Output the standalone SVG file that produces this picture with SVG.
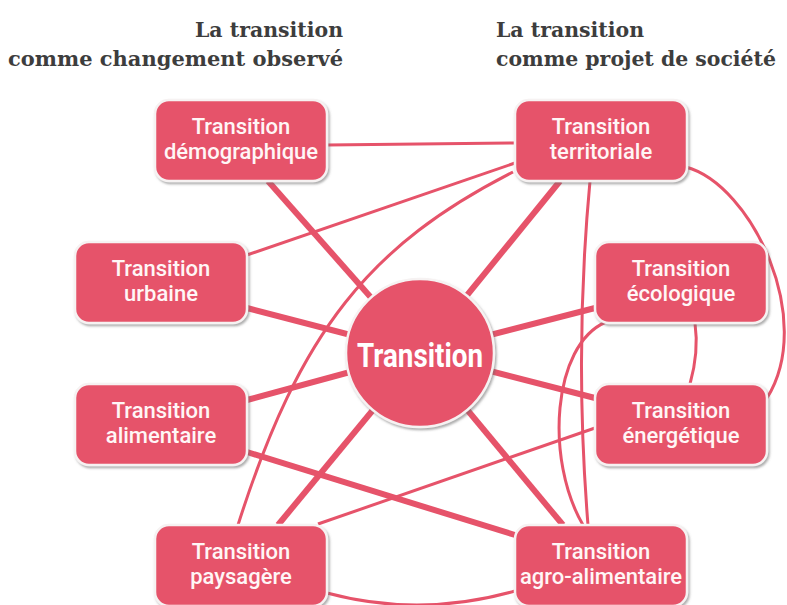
<svg xmlns="http://www.w3.org/2000/svg" width="787" height="605" viewBox="0 0 787 605">
<defs>
<filter id="sh" x="-10%" y="-10%" width="125%" height="130%">
<feDropShadow dx="1.5" dy="2" stdDeviation="1.2" flood-color="#6b6b6b" flood-opacity="0.55"/>
</filter>
<style>
.box{fill:#E6536A;stroke:#f6f2f2;stroke-width:2.5;filter:url(#sh)}
.lbl{font-family:Roboto,"Noto Sans",sans-serif;font-size:22px;font-weight:500;fill:#fff6f6;text-anchor:middle}
.big{font-family:Roboto,"Noto Sans",sans-serif;font-size:33px;font-weight:bold;fill:#ffffff;text-anchor:middle}
.hd{font-family:"DejaVu Serif","Liberation Serif",serif;font-size:21px;font-weight:bold;fill:#3d3d3d}
.thick{fill:none;stroke:#E6536A;stroke-width:6}
.thin{fill:none;stroke:#E6536A;stroke-width:3}
</style>
</defs>
<rect width="787" height="605" fill="#ffffff"/>

<g id="headers">
<text class="hd" x="343" y="37" text-anchor="end" textLength="148" lengthAdjust="spacingAndGlyphs">La transition</text>
<text class="hd" x="343" y="66" text-anchor="end" textLength="335" lengthAdjust="spacingAndGlyphs">comme changement observé</text>
<text class="hd" x="496" y="37" textLength="148" lengthAdjust="spacingAndGlyphs">La transition</text>
<text class="hd" x="496" y="66" textLength="280" lengthAdjust="spacingAndGlyphs">comme projet de société</text>
</g>

<g id="connectors">
<line class="thick" x1="268" y1="181" x2="420" y2="353"/>
<line class="thick" x1="560" y1="181" x2="420" y2="353"/>
<line class="thick" x1="247" y1="308" x2="420" y2="353"/>
<line class="thick" x1="247" y1="400" x2="420" y2="353"/>
<line class="thick" x1="278" y1="525" x2="420" y2="353"/>
<line class="thick" x1="595" y1="308" x2="420" y2="353"/>
<line class="thick" x1="595" y1="398" x2="420" y2="353"/>
<line class="thick" x1="563" y1="525" x2="420" y2="353"/>
<line class="thick" x1="247" y1="452" x2="515" y2="535"/>
<line class="thin" x1="327" y1="145" x2="515" y2="143"/>
<line class="thin" x1="247" y1="255" x2="515" y2="163"/>
<line class="thin" x1="318" y1="524" x2="595" y2="428"/>
<path class="thin" d="M513,172 C370,245 300,330 238,525"/>
<path class="thin" d="M590,181 Q574,352 588,525"/>
<path class="thin" d="M686,167 C752,185 816,320 767,398"/>
<path class="thin" d="M695,323 Q699,352 690,384"/>
<path class="thin" d="M606,322 C552,345 545,460 583,525"/>
<path class="thin" d="M327,593 Q420,618 515,591"/>
</g>

<g id="center">
<circle class="box" cx="420" cy="353" r="74"/>
<text class="big" x="420" y="367" textLength="126" lengthAdjust="spacingAndGlyphs">Transition</text>
</g>

<g id="demographique">
<rect class="box" x="155" y="100" width="172" height="81" rx="14"/>
<text class="lbl" x="241" y="134">Transition</text>
<text class="lbl" x="241" y="159">démographique</text>
</g>
<g id="territoriale">
<rect class="box" x="515" y="100" width="172" height="81" rx="14"/>
<text class="lbl" x="601" y="134">Transition</text>
<text class="lbl" x="601" y="159">territoriale</text>
</g>
<g id="urbaine">
<rect class="box" x="75" y="242" width="172" height="81" rx="14"/>
<text class="lbl" x="161" y="276">Transition</text>
<text class="lbl" x="161" y="301">urbaine</text>
</g>
<g id="ecologique">
<rect class="box" x="595" y="242" width="172" height="81" rx="14"/>
<text class="lbl" x="681" y="276">Transition</text>
<text class="lbl" x="681" y="301">écologique</text>
</g>
<g id="alimentaire">
<rect class="box" x="75" y="384" width="172" height="81" rx="14"/>
<text class="lbl" x="161" y="418">Transition</text>
<text class="lbl" x="161" y="443">alimentaire</text>
</g>
<g id="energetique">
<rect class="box" x="595" y="384" width="172" height="81" rx="14"/>
<text class="lbl" x="681" y="418">Transition</text>
<text class="lbl" x="681" y="443">énergétique</text>
</g>
<g id="paysagere">
<rect class="box" x="155" y="525" width="172" height="81" rx="14"/>
<text class="lbl" x="241" y="559">Transition</text>
<text class="lbl" x="241" y="584">paysagère</text>
</g>
<g id="agroalimentaire">
<rect class="box" x="515" y="525" width="172" height="81" rx="14"/>
<text class="lbl" x="601" y="559">Transition</text>
<text class="lbl" x="601" y="584">agro-alimentaire</text>
</g>
</svg>
